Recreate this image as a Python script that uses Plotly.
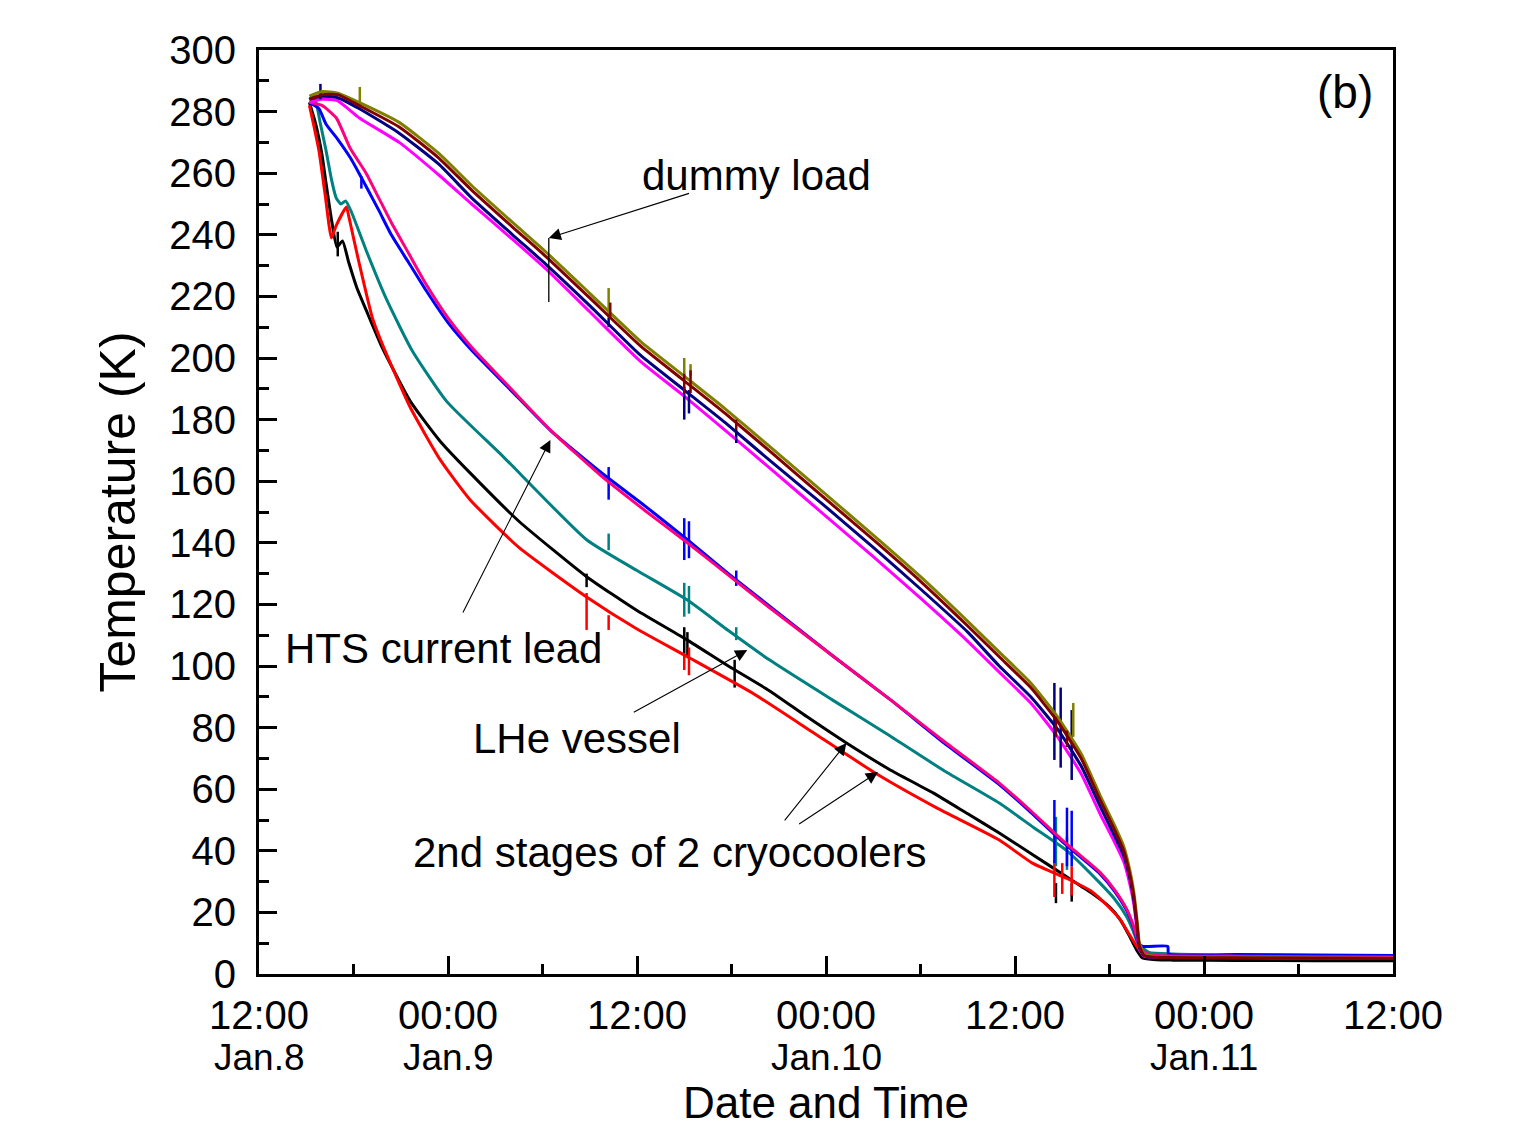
import plotly.graph_objects as go

# ---------------- data (time in hours from 12:00 Jan.8, temperature in K) -------------
# dummy load curves share this time base
t_dummy = [3.2, 4.0, 5.0, 6.35, 8.9, 11.4, 13.5, 16.1, 18.2, 21.0, 24.2, 26.9, 29.6, 32.6,
           35.8, 39.0, 42.0, 45.0, 47.0, 49.0, 50.7, 52.2, 53.4, 54.3, 54.9, 55.3, 55.55,
           55.75, 55.9, 56.2, 57.0, 62, 67, 72]
brown_v = [284, 285.5, 285.5, 282, 275, 265, 254.5, 242.5, 233, 219.5, 204, 193, 182, 169,
           155, 141, 127.5, 113, 103, 93, 82, 70, 56.5, 47, 40, 32, 25, 16, 9, 6, 5.4, 5.3,
           5.1, 5.0]
olive_v = [285, 286.5, 286, 283, 276.5, 266.5, 256, 244, 234.5, 221, 205.5, 194.5, 183.5,
           170.5, 156.5, 142.5, 129, 114.5, 104.5, 94.5, 83.5, 71.5, 58, 48.5, 41.5, 33.5,
           26.5, 17.5, 10, 6.5, 5.6, 5.4, 5.2, 5.1]
navy_v = [284, 285, 284.5, 281, 273, 263, 252, 240, 230.5, 217, 201, 190, 179, 166, 152.5,
          138.5, 125, 111, 100, 90, 79.5, 67.5, 54.5, 45, 38.5, 31, 24, 15.5, 8.5, 6, 5.4,
          5.3, 5.1, 5.0]
magenta_v = [283, 284, 283.5, 278, 270, 259.5, 250, 238.5, 229, 215, 199, 188, 176.5, 163.5,
             149.5, 135.5, 122, 108, 98, 88, 77, 65, 52, 43, 36.5, 29, 22.5, 14, 8, 5.8,
             5.4, 5.3, 5.1, 5.0]

# HTS current lead
t_pink = [3.2, 4.0, 4.9, 5.8, 6.8, 7.6, 8.4, 9.5, 10.6, 12.0, 13.5, 16.0, 18.5, 21.8, 24.5,
          27.2, 29.8, 32.4, 36.5, 40.1, 43.5, 47.0, 49.0, 51.0, 52.5, 53.4, 54.3, 55.1, 55.5,
          55.8, 56.2, 57.0, 62, 67, 72]
pink_v = [283, 282, 278, 268, 260, 252, 244, 234, 224, 213, 203.5, 190, 176.6, 161.4, 150.5,
          140, 129.5, 119, 103, 89, 75.5, 62, 53, 43.5, 37, 33, 27.5, 21, 16, 11, 7, 6, 5.8,
          5.6, 5.5]
t_blue = [3.2, 3.8, 4.25, 5.0, 5.8, 6.35, 7.6, 8.4, 9.5, 10.6, 12.0, 13.5, 16.0, 18.5, 21.8,
          24.5, 27.2, 29.8, 32.4, 36.5, 40.1, 43.5, 47.0, 49.0, 51.0, 52.5, 53.4, 54.3, 55.1,
          55.5, 55.8, 56.1, 57.7, 57.75, 62, 67, 72]
blue_v = [283, 281, 276, 271, 265, 260, 248, 240, 231, 222, 211.5, 202.5, 189.5, 176.5, 162.5,
          152, 141, 130, 119.5, 103, 89, 75, 61.5, 52.5, 43, 36.5, 32.5, 27, 20.5, 15.5,
          10.5, 9, 9, 6.5, 6.3, 6.2, 6.0]

# LHe vessel
t_teal = [3.2, 3.5, 3.9, 4.25, 4.6, 4.9, 5.2, 5.5, 5.9, 6.8, 8.1, 9.7, 11.9, 15.5, 20.8, 24.0,
          27.2, 29.8, 32.4, 36.4, 40.0, 43.5, 47.0, 49.2, 51.3, 53.4, 54.3, 55.1, 55.5, 55.8,
          56.5, 58, 62, 67, 72]
teal_v = [284, 285, 276, 267.5, 258, 252, 250, 251, 247, 235, 219, 202.6, 186, 168, 141, 131,
          121.4, 111.5, 102, 89, 77.5, 66, 55.5, 47.5, 40, 29.5, 24.5, 18.5, 14, 10, 7, 6.5,
          6.2, 6.0, 5.8]

# 2nd stages of the 2 cryocoolers
t_black = [3.2, 3.6, 4.0, 4.25, 4.6, 4.95, 5.3, 5.7, 6.2, 6.8, 7.8, 9.6, 11.5, 13.4, 16.5,
           20.8, 24.0, 27.2, 29.8, 32.4, 34.8, 37.3, 40.0, 42.8, 45.0, 47.0, 49.2, 51.3, 52.8,
           54.0, 54.7, 55.3, 55.7, 56.1, 57.0, 58, 62, 67, 72]
black_v = [283, 276, 266, 257, 245, 236, 238, 231, 223, 215.6, 203.6, 186, 173, 162.7, 147,
           129, 118, 108.4, 100, 92, 83.5, 75, 66.5, 58.8, 52, 45.8, 38.5, 31.5, 26.5, 21.8,
           17.5, 12, 8, 5.2, 4.6, 4.5, 4.4, 4.3, 4.3]
t_red = [3.2, 3.5, 3.8, 4.2, 4.6, 4.9, 5.55, 5.7, 6.0, 6.35, 7.2, 7.9, 9.6, 11.5, 13.4, 16.5,
         20.8, 24.0, 27.2, 31.4, 35.3, 39.2, 43.0, 47.0, 49.1, 51.3, 52.8, 54.0, 54.7, 55.3,
         55.8, 56.1, 56.8, 58, 62, 67, 72]
red_v = [282, 275, 267.5, 253, 239, 243, 249, 246, 239, 231, 213, 203.6, 184, 167, 154, 138.5,
         122.4, 112, 103, 91, 78, 65, 54, 43.5, 36, 31, 27, 21.5, 17.5, 12.5, 8.5, 6.5, 6, 5.8,
         5.5, 5.3, 5.0]

# measurement spikes: (time, top, bottom)
spikes = {
    "black": [(5.0, 241, 233), (20.8, 130, 125.6), (27.0, 112.6, 104), (27.2, 111, 103),
              (30.2, 102, 93), (50.6, 29.5, 23), (51.6, 29.5, 23.5)],
    "red": [(20.8, 123.7, 111.7), (22.2, 116.5, 111.7), (27.0, 104, 98.7), (27.3, 106, 97),
            (50.5, 37, 25), (51.0, 36, 26), (51.6, 35, 25.5)],
    "teal": [(22.2, 143, 137.6), (27.0, 127, 116), (27.3, 126, 117), (30.3, 112.6, 108.4),
             (50.6, 51, 35), (51.3, 44.5, 33.8)],
    "blue": [(6.5, 259, 255), (22.2, 164.6, 154), (27.0, 148, 134.4), (27.3, 147, 135),
             (30.3, 131, 126), (50.5, 56.5, 36), (51.3, 54, 35), (51.6, 53, 35)],
    "navy": [(3.9, 289, 284), (22.2, 213, 210), (27.0, 190.6, 180), (27.3, 189.6, 182),
             (30.3, 176.6, 172.4), (50.5, 94.5, 69.5), (50.9, 93, 67), (51.6, 85.7, 63)],
    "olive": [(6.4, 288, 282), (22.2, 222.7, 213), (27.0, 200, 195), (27.4, 198, 194),
              (51.7, 88, 77)],
    "brown": [(22.3, 218, 213), (27.0, 195, 188.6), (27.4, 196, 188.6), (30.3, 180, 176.6),
              (50.6, 83.4, 77), (51.3, 79, 73.7)],
}

series = [
    ("black", t_black, black_v, "#000000"),
    ("red", t_red, red_v, "#FF0000"),
    ("teal", t_teal, teal_v, "#008080"),
    ("blue", t_blue, blue_v, "#0000FF"),
    ("pink", t_pink, pink_v, "#FF0080"),
    ("magenta", t_dummy, magenta_v, "#FF00FF"),
    ("navy", t_dummy, navy_v, "#000080"),
    ("olive", t_dummy, olive_v, "#808000"),
    ("brown", t_dummy, brown_v, "#800000"),
]

x_tickvals = [0, 12, 24, 36, 48, 60, 72]
x_ticktext = ["12:00", "00:00", "12:00", "00:00", "12:00", "00:00", "12:00"]
date_pos = [0, 12, 36, 60]
date_text = ["Jan.8", "Jan.9", "Jan.10", "Jan.11"]

FONT = "Arial, Liberation Sans, sans-serif"

fig = go.Figure()
for name, t, v, col in series:
    if name in spikes:
        sx, sy = [], []
        for (ts, hi, lo) in spikes[name]:
            sx += [ts, ts, None]
            sy += [hi, lo, None]
        fig.add_trace(go.Scatter(x=sx, y=sy, mode="lines",
                                 line=dict(color=col, width=2.5), showlegend=False,
                                 hoverinfo="skip"))
    fig.add_trace(go.Scatter(x=t, y=v, mode="lines", name=name,
                             line=dict(color=col, width=3, shape="spline", smoothing=0.5),
                             showlegend=False))

# annotations: texts
texts = [
    ("dummy load", 31.6, 259.4, 42),
    ("HTS current lead", 11.7, 105.8, 42),
    ("LHe vessel", 20.2, 76.6, 42),
    ("2nd stages of 2 cryocoolers", 26.1, 39.3, 42),
    ("(b)", 68.95, 286.4, 46),
]
annotations = []
for txt, x, y, sz in texts:
    annotations.append(dict(text=txt, x=x, y=y, xref="x", yref="y", showarrow=False,
                            font=dict(family=FONT, size=sz, color="black"),
                            xanchor="center", yanchor="middle"))
# date labels under the time ticks
for xp, dt in zip(date_pos, date_text):
    annotations.append(dict(text=dt, x=xp, y=0, xref="x", yref="paper", yshift=-83,
                            showarrow=False, xanchor="center", yanchor="middle",
                            font=dict(family=FONT, size=37, color="black")))
# arrows: (head_x, head_y, tail_x, tail_y)
arrows = [
    (18.4, 239.0, 27.4, 253.6),
    (18.5, 173.4, 12.9, 116.9),
    (31.0, 105.2, 23.7, 84.7),
    (37.3, 75.0, 33.3, 49.4),
    (39.3, 65.6, 34.2, 48.4),
]
for hx, hy, tx, ty in arrows:
    annotations.append(dict(text="", x=hx, y=hy, ax=tx, ay=ty, xref="x", yref="y",
                            axref="x", ayref="y", showarrow=True, arrowhead=2,
                            arrowsize=2.2, arrowwidth=1.1, arrowcolor="black"))

fig.add_shape(type="line", x0=18.4, x1=18.4, y0=239, y1=218.2, xref="x", yref="y",
              line=dict(color="black", width=1.3))

fig.update_layout(
    width=1527, height=1127,
    margin=dict(l=259, r=134, t=50, b=153),
    plot_bgcolor="white", paper_bgcolor="white",
    font=dict(family=FONT, color="black"),
    annotations=annotations,
    showlegend=False,
)
fig.update_xaxes(
    range=[0, 72], tickmode="array", tickvals=x_tickvals, ticktext=x_ticktext,
    automargin=False,
    ticks="inside", ticklen=18, tickwidth=2.5, tickcolor="black",
    showline=True, linewidth=3, linecolor="black", mirror=True,
    showgrid=False, zeroline=False,
    tickfont=dict(family=FONT, size=40, color="black"), ticklabelstandoff=4,
    minor=dict(tickmode="linear", tick0=0, dtick=6, ticks="inside", ticklen=10,
               tickwidth=2.5, tickcolor="black", showgrid=False),
    title=dict(text="Date and Time", font=dict(family=FONT, size=44, color="black"),
               standoff=80),
)
fig.update_yaxes(
    range=[0, 300], tickmode="linear", tick0=0, dtick=20,
    automargin=False,
    ticks="inside", ticklen=18, tickwidth=2.5, tickcolor="black",
    showline=True, linewidth=3, linecolor="black", mirror=True,
    showgrid=False, zeroline=False,
    tickfont=dict(family=FONT, size=40, color="black"), ticklabelstandoff=12,
    minor=dict(tickmode="linear", tick0=0, dtick=10, ticks="inside", ticklen=10,
               tickwidth=2.5, tickcolor="black", showgrid=False),
    title=dict(text="Temperature (K)", font=dict(family=FONT, size=50, color="black"),
               standoff=18),
)

fig.write_html("out.html")
